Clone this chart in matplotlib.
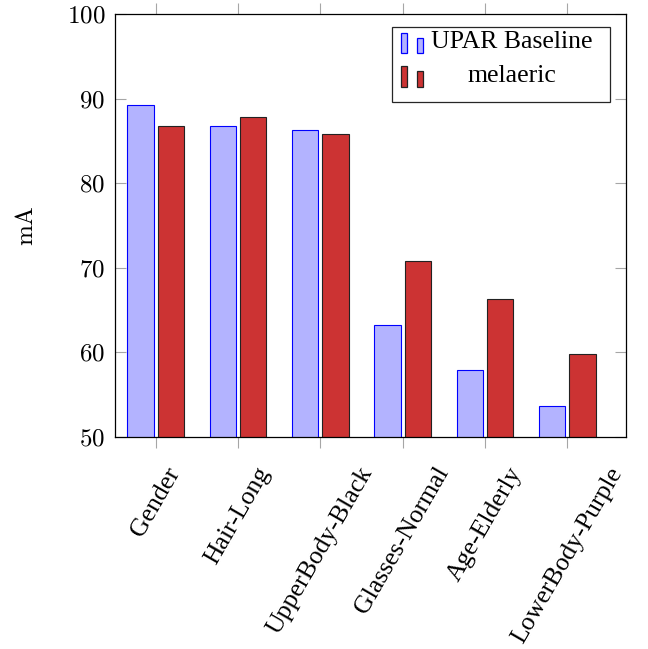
import matplotlib
matplotlib.use("Agg")
import matplotlib.pyplot as plt
from matplotlib.patches import Rectangle
import numpy as np

categories = ["Gender", "Hair-Long", "UpperBody-Black", "Glasses-Normal", "Age-Elderly", "LowerBody-Purple"]
baseline = [89.3, 86.8, 86.3, 63.2, 57.9, 53.7]
melaeric = [86.8, 87.8, 85.8, 70.8, 66.3, 59.8]
series_names = ["UPAR Baseline", "melaeric"]
yticks = [50, 60, 70, 80, 90, 100]

plt.rcParams["mathtext.fontset"] = "cm"
plt.rcParams["font.family"] = "Liberation Serif"

blue_fill, blue_edge = "#b3b3ff", "#0000ff"
red_fill, red_edge = "#cc3333", "#222222"
W, H = 648, 649

fig = plt.figure(figsize=(W / 100, H / 100), dpi=100)
ax = fig.add_axes([115 / W, 1 - 437 / H, (626 - 115) / W, (437 - 14) / H])

x = np.arange(len(categories))
bw = 0.32
ax.bar(x - 0.185, baseline, bw, color=blue_fill, edgecolor=blue_edge, linewidth=0.8)
ax.bar(x + 0.185, melaeric, bw, color=red_fill, edgecolor=red_edge, linewidth=0.8)

ax.set_xlim(-0.495, 5.713)
ax.set_ylim(50, 100)
ax.set_yticks(yticks)
ax.set_yticklabels([f"${v}$" for v in yticks], fontsize=18)
ax.set_xticks(x)
ax.set_xticklabels(categories, fontsize=18.5, rotation=60, ha="center", va="top")

ax.tick_params(axis="y", direction="in", length=8, width=0.8, color="0.65",
               right=True, pad=7)
ax.tick_params(axis="x", direction="out", length=8, width=0.8, color="0.65",
               top=True, pad=11)
for s in ax.spines.values():
    s.set_linewidth(0.9)
ax.set_ylabel(r"$\mathrm{mA}$", fontsize=18, labelpad=21)

# legend box drawn in figure pixels
def fp(px, py):
    return px / W, 1 - py / H

lx0, ly0 = fp(392, 102)
lx1, ly1 = fp(610, 27)
fig.patches.append(Rectangle((lx0, ly0), lx1 - lx0, ly1 - ly0, transform=fig.transFigure,
                             facecolor="white", edgecolor="0.15", linewidth=0.9, zorder=5))
rows = [(blue_fill, blue_edge, 33, 53), (red_fill, red_edge, 66, 87)]
for (fc, ec, top, bot), name in zip(rows, series_names):
    for bx0, bx1, t in [(401, 407, top), (417, 423, top + 5)]:
        a, b = fp(bx0, bot)
        c, d = fp(bx1, t)
        fig.patches.append(Rectangle((a, b), c - a, d - b, transform=fig.transFigure,
                                     facecolor=fc, edgecolor=ec, linewidth=0.9, zorder=6))
    tx, ty = fp(512, (top + bot) / 2 - 1)
    fig.text(tx, ty, name, fontsize=18.5, ha="center", va="center", zorder=7)

fig.savefig("out.png", dpi=100)
